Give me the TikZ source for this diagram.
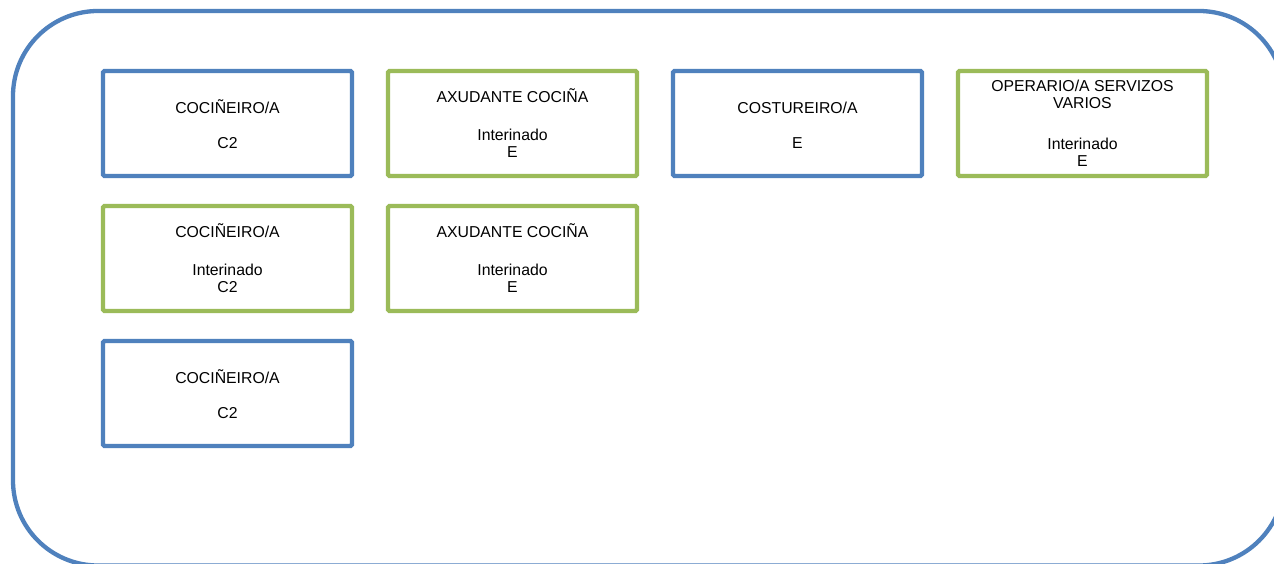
\documentclass[tikz,border=0pt]{standalone}
\usepackage{fontspec}
\setmainfont{Liberation Sans}
\definecolor{fblue}{HTML}{4F81BD}
\definecolor{fgreen}{HTML}{9BBB59}
\newcommand{\upstrut}{\rule{0pt}{15.5pt}}
\tikzset{
  card/.style={draw, line width=4.3pt, rounded corners=1.5pt, minimum width=249pt, minimum height=105pt,
    align=center, inner sep=0pt, font=\fontsize{15.8}{17}\selectfont, fill=white},
  bluecard/.style={card, draw=fblue},
  greencard/.style={card, draw=fgreen},
}
\begin{document}
\begin{tikzpicture}[x=1pt,y=-1pt]
\useasboundingbox (0,0) rectangle (1274,564);
\clip (0,0) rectangle (1274,564);
\fill[white] (0,0) rectangle (1274,564);
\draw[fblue, line width=4.3pt, rounded corners=85pt] (13,11) rectangle (1284,565.5);
\node[bluecard]  (c1) at (227.5,123.5) {\upstrut COCIÑEIRO/A\\[18pt]C2};
\node[greencard] (a1) at (512.5,123.5) {AXUDANTE COCIÑA\\[21pt]Interinado\\E};
\node[bluecard]  (s1) at (797.5,123.5) {\upstrut COSTUREIRO/A\\[18pt]E};
\node[greencard] (o1) at (1082.5,123.5) {OPERARIO/A SERVIZOS\\VARIOS\\[24pt]Interinado\\E};
\node[greencard] (c2) at (227.5,258.5) {COCIÑEIRO/A\\[21pt]Interinado\\C2};
\node[greencard] (a2) at (512.5,258.5) {AXUDANTE COCIÑA\\[21pt]Interinado\\E};
\node[bluecard]  (c3) at (227.5,393.5) {\upstrut COCIÑEIRO/A\\[18pt]C2};
\end{tikzpicture}
\end{document}
